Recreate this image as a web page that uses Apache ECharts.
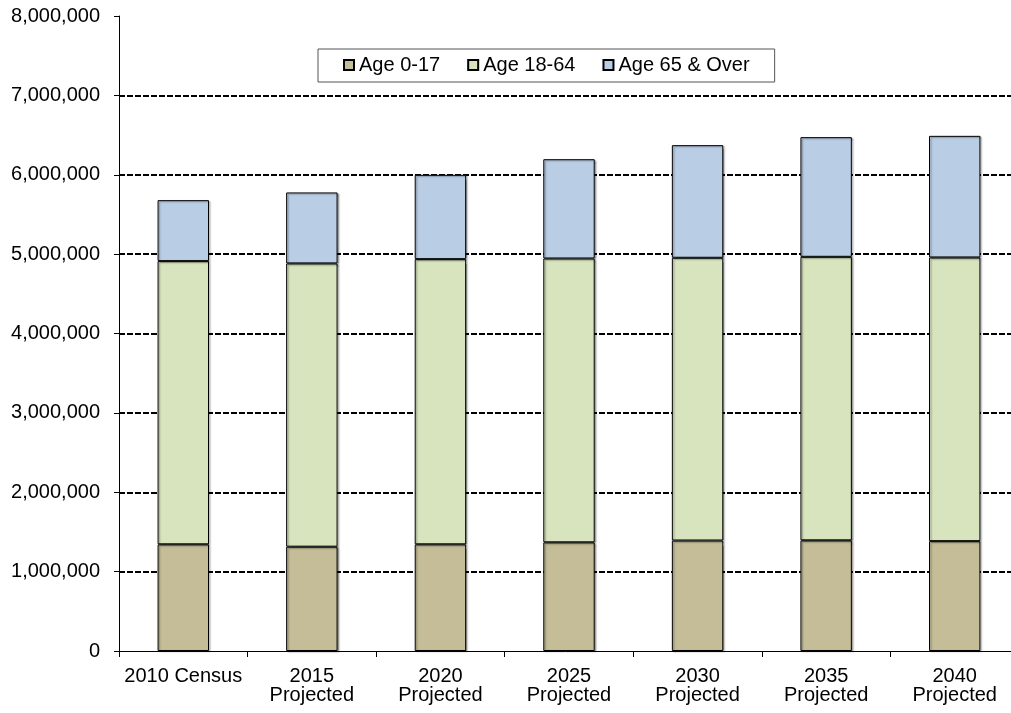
<!DOCTYPE html>
<html>
<head>
<meta charset="utf-8">
<script src="https://cdn.jsdelivr.net/npm/echarts@6/dist/echarts.min.js"></script>
<style>html,body{margin:0;padding:0;background:#fff}#c{width:1011px;height:713px}</style>
</head>
<body>
<div id="c"></div>
<script>
const categories = ["2010 Census", "2015\nProjected", "2020\nProjected", "2025\nProjected", "2030\nProjected", "2035\nProjected", "2040\nProjected"];
const age0to17 = [1344000, 1314000, 1344000, 1369000, 1392000, 1394000, 1384000];
const age18to64 = [3568000, 3569000, 3593000, 3576000, 3562000, 3572000, 3574000];
const age65plus = [768000, 894000, 1062000, 1251000, 1419000, 1508000, 1532000];
const seriesNames = ["Age 0-17", "Age 18-64", "Age 65 & Over"];
const yTicks = [0, 1000000, 2000000, 3000000, 4000000, 5000000, 6000000, 7000000, 8000000];

const FONT = "'Liberation Sans', Arial, sans-serif";
const chart = echarts.init(document.getElementById('c'), null, {renderer: 'canvas'});
const barStyle = (c) => ({color: c, borderColor: '#000', borderWidth: 1,
  shadowColor: 'rgba(0,0,0,0.35)', shadowOffsetX: 1.5, shadowOffsetY: 1, shadowBlur: 1.5});
chart.setOption({
  animation: false,
  backgroundColor: '#fff',
  grid: {left: 119, top: 16, width: 900, height: 635, containLabel: false, outerBoundsMode: 'none'},
  legend: {
    left: 318, top: 49,
    padding: [6, 25, 7, 25],
    borderColor: '#555', borderWidth: 1,
    itemWidth: 10, itemHeight: 10, itemGap: 27,
    icon: 'rect',
    textStyle: {fontFamily: FONT, fontSize: 20, color: '#000'},
    data: seriesNames
  },
  xAxis: {
    type: 'category',
    data: categories,
    axisLine: {lineStyle: {color: '#000', width: 1}},
    axisTick: {show: true, length: 6, lineStyle: {color: '#000'}},
    axisLabel: {fontFamily: FONT, fontSize: 20, color: '#000', margin: 16, lineHeight: 19, interval: 0}
  },
  yAxis: {
    type: 'value',
    min: yTicks[0], max: yTicks[yTicks.length - 1], interval: yTicks[1] - yTicks[0],
    axisLine: {show: true, lineStyle: {color: '#000', width: 1}},
    axisTick: {show: true, length: 5, lineStyle: {color: '#000'}},
    axisLabel: {fontFamily: FONT, fontSize: 20, color: '#000', margin: 19,
      formatter: v => v.toLocaleString('en-US')},
    splitLine: {show: true, showMinLine: false, showMaxLine: false,
      lineStyle: {color: '#000', width: 1.8, type: [6, 2]}}
  },
  series: [
    {name: seriesNames[0], type: 'bar', stack: 'pop', data: age0to17, barCategoryGap: '60%', itemStyle: barStyle('#C4BD97')},
    {name: seriesNames[1], type: 'bar', stack: 'pop', data: age18to64, barCategoryGap: '60%', itemStyle: barStyle('#D7E4BD')},
    {name: seriesNames[2], type: 'bar', stack: 'pop', data: age65plus, barCategoryGap: '60%', itemStyle: barStyle('#B9CDE5')}
  ]
});
</script>
</body>
</html>
